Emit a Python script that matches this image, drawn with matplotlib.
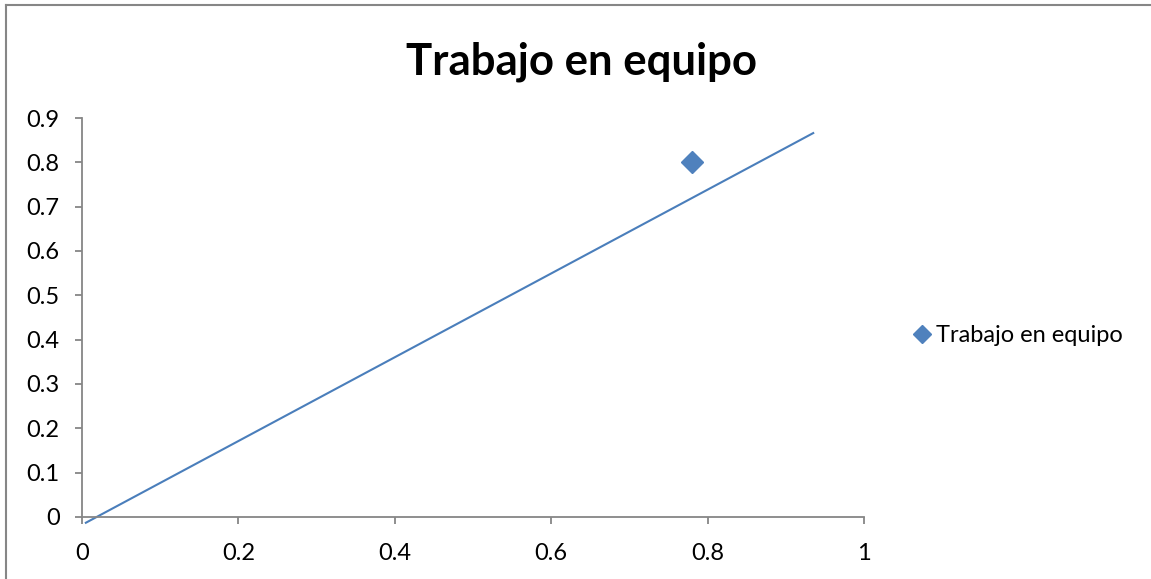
import matplotlib.pyplot as plt
from matplotlib.lines import Line2D

plt.rcParams['font.family'] = ['Lato', 'DejaVu Sans']

# Data
series_name = 'Trabajo en equipo'
point_x = [0.78]
point_y = [0.80]
trend_x = [0.005, 0.935]
trend_y = [-0.013, 0.866]
x_ticks = [0, 0.2, 0.4, 0.6, 0.8, 1]
x_labels = ['0', '0.2', '0.4', '0.6', '0.8', '1']
y_ticks = [0, 0.1, 0.2, 0.3, 0.4, 0.5, 0.6, 0.7, 0.8, 0.9]
y_labels = ['0', '0.1', '0.2', '0.3', '0.4', '0.5', '0.6', '0.7', '0.8', '0.9']

blue = '#4f81bd'
axis_gray = '#868686'

fig = plt.figure(figsize=(11.51, 5.79), dpi=100)
ax = fig.add_axes([0.0712, 0.1071, 0.6795, 0.6891])

# Trend line and the single data point
ax.plot(trend_x, trend_y, color='#4a7ebb', lw=1.5, clip_on=False, zorder=2)
ax.plot(point_x, point_y, linestyle='none', marker='D', ms=11, color=blue, zorder=3)

ax.set_xlim(0, 1)
ax.set_ylim(0, 0.9)
ax.set_xticks(x_ticks, x_labels)
ax.set_yticks(y_ticks, y_labels)

for side in ['top', 'right']:
    ax.spines[side].set_visible(False)
for side in ['left', 'bottom']:
    ax.spines[side].set_color(axis_gray)
    ax.spines[side].set_linewidth(1.3)
ax.tick_params(axis='both', colors=axis_gray, labelcolor='black', labelsize=17,
               length=5, width=1.3, direction='out')
ax.tick_params(axis='y', pad=11)
ax.tick_params(axis='x', pad=14)

fig.text(0.505, 0.893, 'Trabajo en equipo', ha='center', va='center',
         fontsize=31.5, fontweight='bold')

# Legend on the right
handle = Line2D([], [], linestyle='none', marker='D', ms=9, color=blue)
fig.legend([handle], [series_name], loc='center left', bbox_to_anchor=(0.774, 0.42),
           frameon=False, fontsize=17, handlelength=0.8, handletextpad=0.2)

# Chart frame (top and left edges)
fig.add_artist(Line2D([0.0055, 0.0055], [0, 0.991], color=axis_gray, lw=1.5))
fig.add_artist(Line2D([0.0055, 1], [0.991, 0.991], color=axis_gray, lw=1.5))

fig.savefig('out.png', dpi=100)
